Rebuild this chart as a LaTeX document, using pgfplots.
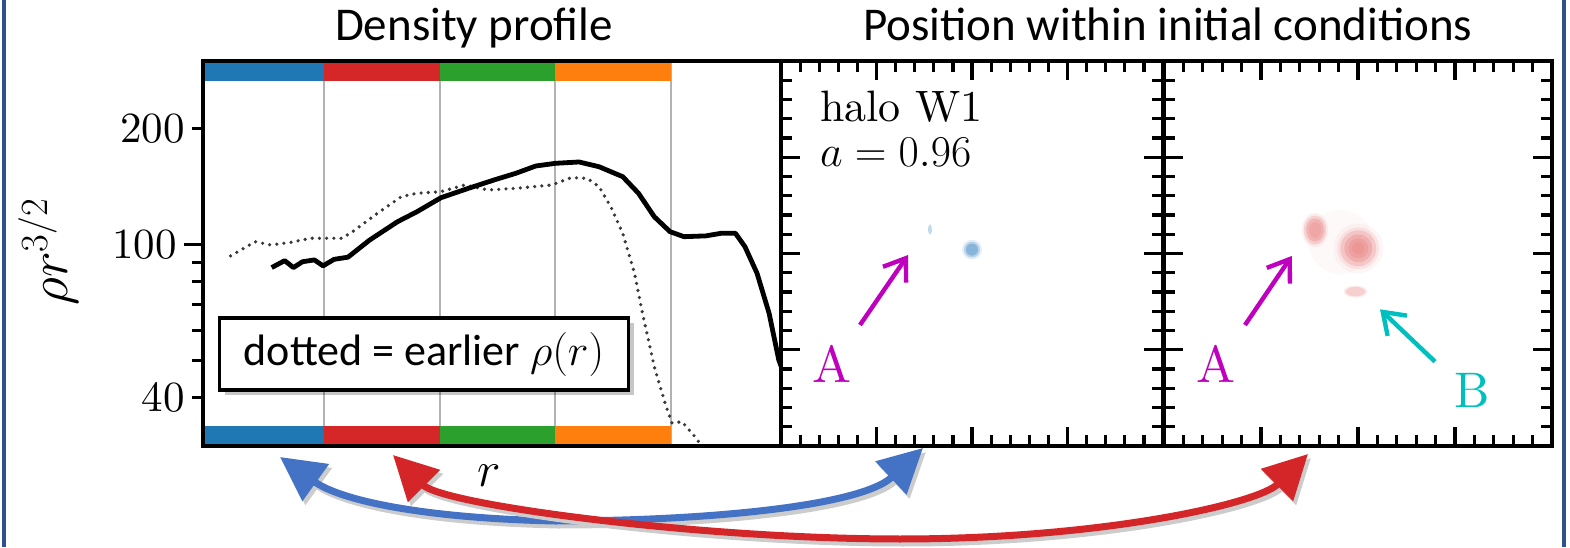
\documentclass[border=0pt]{standalone}
\usepackage{fix-cm}
\usepackage{pgfplots}
\pgfplotsset{compat=1.18}
\usepackage{fontspec}
\newfontfamily\calibri{Carlito}
\newfontfamily\lmten{lmroman10-regular.otf}
\usetikzlibrary{arrows.meta,shadows}

\definecolor{tabblue}{HTML}{1F77B4}
\definecolor{tabred}{HTML}{D62728}
\definecolor{tabgreen}{HTML}{2CA02C}
\definecolor{taborange}{HTML}{FF7F0E}
\definecolor{arrblue}{HTML}{4472C4}
\definecolor{arrred}{HTML}{D42628}
\definecolor{framecol}{HTML}{2F528F}
\definecolor{mplmag}{HTML}{BF00BF}
\definecolor{mplcyan}{HTML}{00BFBF}
\definecolor{blobblue}{RGB}{80,145,200}
\definecolor{blobred}{RGB}{226,95,95}

\pgfplotsset{
  panel/.style={
    scale only axis, height=192.5pt,
    xmin=0, xmax=4, ymin=0, ymax=4,
    xtick={0,1,2,3,4}, ytick={0,1,2,3,4}, minor tick num=4,
    xticklabels={}, yticklabels={},
    tick align=inside, xtick pos=both, ytick pos=both,
    major tick length=9.5pt, minor tick length=5.5pt,
    every tick/.style={black, line width=1.6pt},
    axis line style={line width=2.2pt}, axis on top, clip=false,
  },
  blobb/.style={only marks, mark=*, forget plot, color=blobblue},
  blobr/.style={only marks, mark=*, forget plot, color=blobred},
}

\begin{document}
\begin{tikzpicture}
\useasboundingbox (0,0) rectangle (785pt,273.5pt);

% ---------------- density profile ----------------
\begin{axis}[
  at={(101.5pt,50.5pt)}, anchor=south west,
  scale only axis, width=289pt, height=192.5pt,
  xmin=0, xmax=4.94, ymode=log, ymin=30, ymax=300,
  axis on top,
  axis line style={line width=1.8pt},
  tick align=outside, ytick pos=left,
  xtick=\empty,
  ytick={100}, yticklabels={100},
  minor ytick={50,60,70,80,90},
  extra y ticks={40,200}, extra y tick labels={40,200},
  extra y tick style={major tick length=5.5pt},
  major tick length=9.5pt, minor tick length=5.5pt,
  every tick/.style={black, line width=1.5pt},
  tick label style={font=\lmten\fontsize{21.5}{21.5}\selectfont},
]
% radial bin edges
\addplot[gray!60, line width=1pt, forget plot] coordinates {(1.034,30) (1.034,300)};
\addplot[gray!60, line width=1pt, forget plot] coordinates {(2.026,30) (2.026,300)};
\addplot[gray!60, line width=1pt, forget plot] coordinates {(3.009,30) (3.009,300)};
\addplot[gray!60, line width=1pt, forget plot] coordinates {(4.0,30) (4.0,300)};
% colour bands marking the bins (top and bottom)
\addplot[draw=none, fill=tabblue, forget plot] coordinates {(0,266.2) (1.034,266.2) (1.034,300) (0,300)};
\addplot[draw=none, fill=tabred, forget plot] coordinates {(1.034,266.2) (2.026,266.2) (2.026,300) (1.034,300)};
\addplot[draw=none, fill=tabgreen, forget plot] coordinates {(2.026,266.2) (3.009,266.2) (3.009,300) (2.026,300)};
\addplot[draw=none, fill=taborange, forget plot] coordinates {(3.009,266.2) (4.0,266.2) (4.0,300) (3.009,300)};
\addplot[draw=none, fill=tabblue, forget plot] coordinates {(0,30) (1.034,30) (1.034,33.8) (0,33.8)};
\addplot[draw=none, fill=tabred, forget plot] coordinates {(1.034,30) (2.026,30) (2.026,33.8) (1.034,33.8)};
\addplot[draw=none, fill=tabgreen, forget plot] coordinates {(2.026,30) (3.009,30) (3.009,33.8) (2.026,33.8)};
\addplot[draw=none, fill=taborange, forget plot] coordinates {(3.009,30) (4.0,30) (4.0,33.8) (3.009,33.8)};
% earlier profile (dotted)
\addplot[black!78, line width=1.8pt, dash pattern=on 0pt off 3.6pt, line cap=round] coordinates {
 (0.236,93.5) (0.445,101.8) (0.580,99.8) (0.750,101.4) (0.918,103.9) (1.053,103.9)
 (1.188,103.9) (1.290,108.7) (1.492,120.7) (1.695,133.3) (1.829,136.0) (2.033,137.3)
 (2.236,142.9) (2.438,138.7) (2.675,140.1) (2.979,142.9) (3.148,149.3) (3.283,148.7)
 (3.385,141.5) (3.485,125.5) (3.587,107.1) (3.688,84.3) (3.756,66.4) (3.857,48.2)
 (3.959,37.9) (4.009,34.4) (4.094,34.7) (4.229,31.1) (4.248,30)};
% current profile
\addplot[black, line width=2.4pt, line join=round] coordinates {
 (0.587,87.2) (0.698,90.9) (0.773,87.2) (0.850,90.3) (0.952,91.3) (1.026,88.1)
 (1.120,91.6) (1.239,92.8) (1.424,102.8) (1.662,114.7) (1.829,121.8) (2.033,132.4)
 (2.269,140.1) (2.504,147.8) (2.675,153.3) (2.844,160.1) (3.013,162.7) (3.214,164.0)
 (3.385,159.4) (3.587,150.2) (3.722,136.0) (3.857,118.2) (3.991,108.1) (4.111,104.9)
 (4.297,105.4) (4.432,107.1) (4.550,107.1) (4.632,98.8) (4.735,84.3) (4.838,66.4)
 (4.921,50.2) (4.940,48.4)};
\node[draw=black, line width=1.6pt, fill=white, minimum width=204.5pt, minimum height=36pt,
      drop shadow={shadow xshift=2.5pt, shadow yshift=-2.5pt, fill=black, opacity=0.22},
      font=\calibri\fontsize{22}{22}\selectfont]
      at (axis cs:1.889,52.0) {dotted = earlier $\rho(r)$};
\end{axis}

% ---------------- halo W1 at a = 0.96 ----------------
\begin{axis}[panel, at={(390.5pt,50.5pt)}, anchor=south west, width=191pt]
\addplot[blobb, mark size=1.6pt, mark options={draw opacity=0, fill=blobblue, fill opacity=0.35, xscale=0.6, yscale=1.6, rotate=-20}] coordinates {(1.56,2.25)};
\addplot[blobb, mark size=5pt, mark options={draw opacity=0, fill=blobblue, fill opacity=0.15}] coordinates {(2.0,2.04)};
\addplot[blobb, mark size=4pt, mark options={draw opacity=0, fill=blobblue, fill opacity=0.3}] coordinates {(2.0,2.04)};
\addplot[blobb, mark size=3pt, mark options={draw opacity=0, fill=blobblue, fill opacity=0.45}] coordinates {(2.0,2.04)};
\node[anchor=base west, font=\lmten\fontsize{22}{22}\selectfont] at (axis cs:0.335,3.37) {halo W1};
\node[anchor=base west, font=\fontsize{22}{22}\selectfont] at (axis cs:0.335,2.90) {$a = 0.96$};
\draw[mplmag, line width=2.2pt, -{Straight Barb[length=10pt,width=14pt]}] (axis cs:0.827,1.257) -- (axis cs:1.33,1.984);
\node[mplmag, font=\lmten\fontsize{26}{26}\selectfont] at (axis cs:0.529,0.85) {A};
\end{axis}

% ---------------- initial conditions ----------------
\begin{axis}[panel, at={(582pt,50.5pt)}, anchor=south west, width=194pt]
% diffuse haze around the clumps
\addplot[blobr, mark size=16pt, mark options={draw opacity=0, fill=blobred, fill opacity=0.035}] coordinates {(1.82,2.12)};
% clump left
\addplot[blobr, mark size=8.5pt, mark options={draw opacity=0, fill=blobred, fill opacity=0.1, xscale=0.77, rotate=15}] coordinates {(1.557,2.244)};
\addplot[blobr, mark size=7.3pt, mark options={draw opacity=0, fill=blobred, fill opacity=0.2, xscale=0.77, rotate=15}] coordinates {(1.557,2.244)};
\addplot[blobr, mark size=5.8pt, mark options={draw opacity=0, fill=blobred, fill opacity=0.25, xscale=0.77, rotate=15}] coordinates {(1.557,2.244)};
\addplot[blobr, mark size=4pt, mark options={draw opacity=0, fill=blobred, fill opacity=0.15, xscale=0.77, rotate=15}] coordinates {(1.557,2.244)};
% main clump
\addplot[blobr, mark size=12.5pt, mark options={draw opacity=0, fill=blobred, fill opacity=0.06}] coordinates {(2.003,2.054)};
\addplot[blobr, mark size=10.5pt, mark options={draw opacity=0, fill=blobred, fill opacity=0.12}] coordinates {(2.003,2.054)};
\addplot[blobr, mark size=9pt, mark options={draw opacity=0, fill=blobred, fill opacity=0.2}] coordinates {(2.003,2.054)};
\addplot[blobr, mark size=7pt, mark options={draw opacity=0, fill=blobred, fill opacity=0.22}] coordinates {(2.003,2.054)};
\addplot[blobr, mark size=5pt, mark options={draw opacity=0, fill=blobred, fill opacity=0.2}] coordinates {(2.003,2.054)};
\addplot[blobr, mark size=3pt, mark options={draw opacity=0, fill=blobred, fill opacity=0.15}] coordinates {(2.003,2.054)};
% small clump below
\addplot[blobr, mark size=6pt, mark options={draw opacity=0, fill=blobred, fill opacity=0.12, yscale=0.5}] coordinates {(1.974,1.604)};
\addplot[blobr, mark size=4.8pt, mark options={draw opacity=0, fill=blobred, fill opacity=0.2, yscale=0.5}] coordinates {(1.974,1.604)};
\draw[mplmag, line width=2.2pt, -{Straight Barb[length=10pt,width=14pt]}] (axis cs:0.835,1.257) -- (axis cs:1.317,1.974);
\node[mplmag, font=\lmten\fontsize{26}{26}\selectfont] at (axis cs:0.533,0.85) {A};
\draw[mplcyan, line width=2.2pt, -{Straight Barb[length=10pt,width=14pt]}] (axis cs:2.794,0.876) -- (axis cs:2.227,1.42);
\node[mplcyan, font=\lmten\fontsize{25}{25}\selectfont] at (axis cs:3.175,0.577) {B};
\end{axis}

% ---------------- titles, labels, connecting arrows ----------------
\begin{scope}[x=0.5pt, y=-0.5pt, shift={(0pt,273.5pt)}]
\fill[framecol] (2,0) rectangle (6,547);
\fill[framecol] (1562,0) rectangle (1566,547);
\node[anchor=base, font=\calibri\fontsize{23.5}{23.5}\selectfont] at (474,41) {Density profile};
\node[anchor=base, font=\calibri\fontsize{23.5}{23.5}\selectfont] at (1168,41) {Position within initial conditions};
\node[rotate=90, font=\fontsize{27.5}{27.5}\selectfont] at (48,252) {$\rho r^{3/2}$};
\node[font=\fontsize{25}{25}\selectfont] at (489,476) {$r$};
% blue link
\begin{scope}[shift={(3,4)}]
\draw[black!20, line width=3.5pt, {Triangle[length=22pt,width=22pt]}-{Triangle[length=22pt,width=22pt]}]
  (280,457) .. controls (340,500) and (420,518) .. (555,521) .. controls (700,521) and (860,507) .. (923,448);
\end{scope}
\draw[arrblue, line width=3.5pt, {Triangle[length=22pt,width=22pt]}-{Triangle[length=22pt,width=22pt]}]
  (280,457) .. controls (340,500) and (420,518) .. (555,521) .. controls (700,521) and (860,507) .. (923,448);
% red link
\begin{scope}[shift={(3,4)}]
\draw[black!20, line width=3.5pt, {Triangle[length=22pt,width=22pt]}-{Triangle[length=22pt,width=22pt]}]
  (393,455) .. controls (443,505) and (700,539) .. (900,539) .. controls (1100,539) and (1258,504) .. (1308,454);
\end{scope}
\draw[arrred, line width=3.5pt, {Triangle[length=22pt,width=22pt]}-{Triangle[length=22pt,width=22pt]}]
  (393,455) .. controls (443,505) and (700,539) .. (900,539) .. controls (1100,539) and (1258,504) .. (1308,454);
\end{scope}
\end{tikzpicture}
\end{document}
